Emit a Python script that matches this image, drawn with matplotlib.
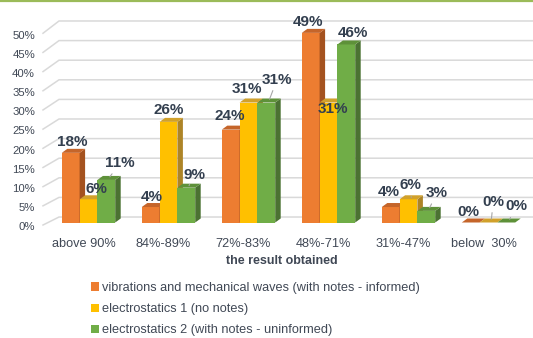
import matplotlib
matplotlib.use("Agg")
import matplotlib.pyplot as plt
from matplotlib.patches import Polygon, Patch
from matplotlib.lines import Line2D

# ---------------- data ----------------
categories = ["above 90%", "84%-89%", "72%-83%", "48%-71%", "31%-47%", "below  30%"]
series_names = [
    "vibrations and mechanical waves (with notes - informed)",
    "electrostatics 1 (no notes)",
    "electrostatics 2 (with notes - uninformed)",
]
vibrations = [18, 4, 24, 49, 4, 0]
electro1 = [6, 26, 31, 31, 6, 0]
electro2 = [11, 9, 31, 46, 3, 0]
series_values = [vibrations, electro1, electro2]
y_ticks = [0, 5, 10, 15, 20, 25, 30, 35, 40, 45, 50]
x_title = "the result obtained"

# ---------------- style ----------------
front_colors = ["#ED7D31", "#FFC000", "#70AD47"]
top_colors = ["#C5652A", "#D1A12B", "#5E9139"]
side_colors = ["#A4521F", "#AD8427", "#4B7232"]
label_color = "#333F4F"
text_color = "#404855"
grid_color = "#D9D9D9"
FONT = ["Liberation Sans", "DejaVu Sans"]

# label offsets in pixels (dx, dy up) relative to the bar's top face centre, and leader flags
label_offsets = [
    [(-1, 9), (-2, 8), (-4, 12), (-5, 9), (-5, 13), (-5, 9)],
    [(5, 8), (-3, 10), (-4, 12), (2, -8), (-1, 12), (2, 19)],
    [(11, 15), (5, 11), (8, 21), (4, 9), (8, 16), (7, 14)],
]
leaders = [
    [False, False, False, False, False, False],
    [False, False, False, False, True, True],
    [True, True, True, False, True, True],
]

W, H, DPI = 533, 338, 100
fig = plt.figure(figsize=(W / DPI, H / DPI), dpi=DPI)
fig.patch.set_facecolor("white")

ax_left_px, ax_right_px = 43, 533
ax_bottom_px, ax_top_px = 222.5, 21
px_per_unit = 3.87
group_px = 80.0
ax = fig.add_axes([ax_left_px / W, 1 - ax_bottom_px / H,
                   (ax_right_px - ax_left_px) / W, (ax_bottom_px - ax_top_px) / H])
x0_px = 88.5
ax.set_xlim((ax_left_px - x0_px) / group_px, (ax_right_px - x0_px) / group_px)
ax.set_ylim(0, (ax_bottom_px - ax_top_px) / px_per_unit)
ax.axis("off")

# 3D depth
dx = 5.5 / group_px
dy = 4.0 / px_per_unit
bar_w = 17.8 / group_px
offsets = [-bar_w, 0.0, bar_w]

# back wall gridlines with perspective diagonals at the left
x_left = ax.get_xlim()[0]
x_back = x_left + 16 / group_px
for g in y_ticks:
    back = 1.42 + 1.013 * g
    front = -0.65 + 0.991 * g
    ax.plot([x_left, x_back, ax.get_xlim()[1]], [front, back, back],
            color=grid_color, lw=1.1, zorder=0, clip_on=False, solid_joinstyle="miter")
    ax.text(x_left - 8 / group_px, front - 0.6, f"{g}%", ha="right", va="center",
            fontsize=8.2, color=text_color, family=FONT)

xs = list(range(len(categories)))
for j, vals in enumerate(series_values):
    pos = [x + offsets[j] for x in xs]
    ax.bar(pos, vals, width=bar_w, color=front_colors[j], zorder=2 + j * 3,
           linewidth=0)
    for i, v in enumerate(vals):
        xl = pos[i] - bar_w / 2
        xr = pos[i] + bar_w / 2
        side = Polygon([(xr, 0), (xr + dx, dy), (xr + dx, v + dy), (xr, v)],
                       closed=True, facecolor=side_colors[j], edgecolor="none",
                       zorder=2 + j * 3 + 1)
        top = Polygon([(xl, v), (xl + dx, v + dy), (xr + dx, v + dy), (xr, v)],
                      closed=True, facecolor=top_colors[j], edgecolor="none",
                      zorder=2 + j * 3 + 1)
        ax.add_patch(side)
        ax.add_patch(top)
        ox, oy = label_offsets[j][i]
        arrow = dict(arrowstyle="-", color="#A6A6A6", lw=0.8, shrinkA=1, shrinkB=1) if leaders[j][i] else None
        ax.annotate(f"{v}%", xy=(pos[i] + dx / 2, v + dy / 2),
                    xytext=(ox, oy), textcoords="offset pixels",
                    ha="center", va="center", fontsize=11, fontweight="bold",
                    color=label_color, family=FONT, zorder=20,
                    arrowprops=arrow, annotation_clip=False)

# category labels
for i, c in enumerate(categories):
    ax.text(i - 5 / group_px, -(244 - ax_bottom_px) / px_per_unit, c,
            ha="center", va="center", fontsize=9.2, color=text_color, family=FONT,
            clip_on=False)

fig.text(282 / W, 1 - 261 / H, x_title, ha="center", va="center", fontsize=9,
         fontweight="bold", color=text_color, family=FONT)

handles = [Patch(facecolor=c, edgecolor="none") for c in front_colors]
leg = fig.legend(handles, series_names, loc="upper left",
                 bbox_to_anchor=(91 / W, 1 - 282 / H), frameon=False,
                 prop={"family": FONT, "size": 9.2}, handlelength=0.6,
                 handleheight=0.6, handletextpad=0.3, labelspacing=0.72,
                 borderpad=0, borderaxespad=0)
for t in leg.get_texts():
    t.set_color(text_color)

# top border line
fig.add_artist(Line2D([0, 1], [1 - 0.8 / H, 1 - 0.8 / H], color="#9BBB59", lw=1.6,
                      transform=fig.transFigure))

fig.savefig("out.png", dpi=DPI, facecolor="white")
